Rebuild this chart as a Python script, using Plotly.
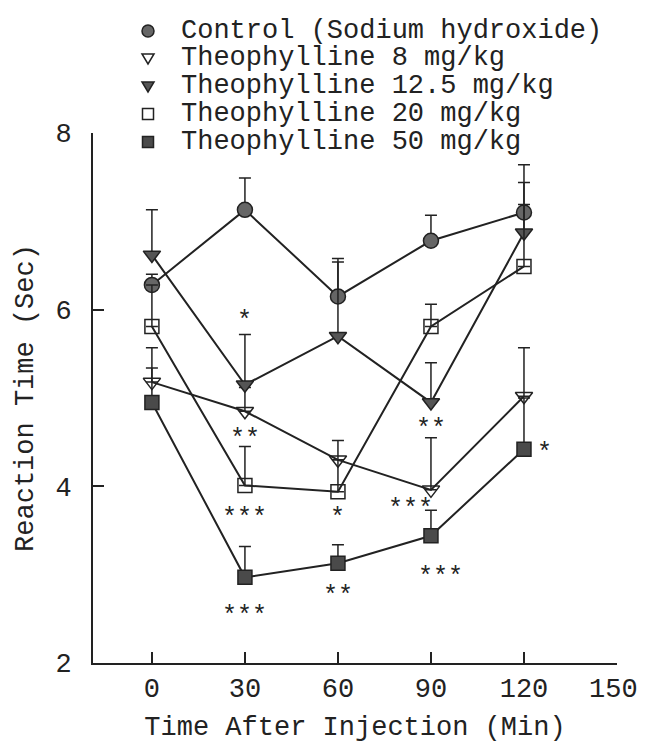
import plotly.graph_objects as go

# ---------------- data ----------------
time_min = [0, 30, 60, 90, 120]

control_mean = [6.28, 7.13, 6.15, 6.78, 7.10]
control_top = [6.40, 7.49, 6.58, 7.07, 7.64]

theo8_mean = [5.18, 4.85, 4.30, 3.96, 5.02]
theo8_top = [5.57, 5.12, 4.52, 4.55, 5.57]

theo125_mean = [6.62, 5.15, 5.70, 4.95, 6.87]
theo125_top = [7.13, 5.72, 6.54, 5.40, 7.44]

theo20_mean = [5.81, 4.01, 3.94, 5.81, 6.49]
theo20_top = [6.28, 4.45, 4.30, 6.06, 7.19]

theo50_mean = [4.95, 2.97, 3.13, 3.44, 4.42]
theo50_top = [5.34, 3.32, 3.34, 3.73, 5.00]

series_names = [
    "Control (Sodium hydroxide)",
    "Theophylline 8 mg/kg",
    "Theophylline 12.5 mg/kg",
    "Theophylline 20 mg/kg",
    "Theophylline 50 mg/kg",
]

sig_x = [30, 30, 30, 30, 60, 60, 90, 83.5, 93, 126.5]
sig_y = [5.94, 4.61, 3.71, 2.61, 3.71, 2.83, 4.72, 3.82, 3.05, 4.45]
sig_text = ["*", "**", "***", "***", "*", "**", "**", "***", "***", "*"]

x_ticks = [0, 30, 60, 90, 120, 150]
x_tick_labels = ["0", "30", "60", "90", "120", "150"]
y_ticks = [2, 4, 6, 8]

# ---------------- style ----------------
FONT = "Liberation Mono"
INK = "#222222"
GRAY = "#666666"

styles = [
    dict(symbol="circle", size=15, color=GRAY),
    dict(symbol="triangle-down-open", size=15, color=INK),
    dict(symbol="triangle-down", size=15, color="#555555"),
    dict(symbol="square-open", size=14, color=INK),
    dict(symbol="square", size=14, color="#4a4a4a"),
]
means = [control_mean, theo8_mean, theo125_mean, theo20_mean, theo50_mean]
tops = [control_top, theo8_top, theo125_top, theo20_top, theo50_top]

fig = go.Figure()
for name, m, t, st in zip(series_names, means, tops, styles):
    up = [b - a for a, b in zip(m, t)]
    fig.add_trace(go.Scatter(
        x=time_min, y=m, name=name, mode="lines+markers",
        line=dict(color=INK, width=2),
        marker=dict(symbol=st["symbol"], size=st["size"], color=st["color"],
                    line=dict(color=INK, width=1.5)),
        error_y=dict(type="data", symmetric=False, array=up,
                     arrayminus=[0] * len(up), color=INK, thickness=1.5, width=6),
        showlegend=False,
    ))

for sx, sy, stx in zip(sig_x, sig_y, sig_text):
    fig.add_annotation(x=sx, y=sy, text=stx, showarrow=False, yshift=-7,
                       font=dict(family=FONT, size=25, color=INK),
                       xanchor="center", yanchor="middle")

# ---------------- layout geometry (page has an 8px body margin) ----------------
OFF = 8
W, H = 645 - OFF, 751 - 2 * OFF
L, R, T, B = 93 - OFF, 28, 133 - OFF, 88 - OFF
pw, ph = W - L - R, H - T - B

def px_x(p):
    return (p - OFF - L) / pw

def px_y(p):
    return (H - B - (p - OFF)) / ph

# last tick label drawn as an annotation nudged left so it is not clipped
shown_labels = x_tick_labels[:-1] + [""]
fig.add_annotation(x=x_ticks[-1], y=px_y(690), yref="paper", text=x_tick_labels[-1],
                   showarrow=False, xanchor="center", yanchor="middle", xshift=-4,
                   font=dict(family=FONT, size=27, color=INK))

legend_rows = [31, 58, 86, 114, 142]
mk_x = px_x(148)
tx_x = px_x(179)
for i, (name, py) in enumerate(zip(series_names, legend_rows)):
    fig.add_annotation(xref="paper", yref="paper", x=tx_x, y=px_y(py), text=name,
                       showarrow=False, xanchor="left", yanchor="middle",
                       font=dict(family=FONT, size=27, color=INK))
    common = dict(xref="paper", yref="paper", xsizemode="pixel", ysizemode="pixel",
                  xanchor=mk_x, yanchor=px_y(py), line=dict(color=INK, width=1.5))
    if i == 0:
        fig.add_shape(type="circle", x0=-6, x1=6, y0=-6, y1=6, fillcolor=GRAY, **common)
    elif i in (1, 2):
        fill = "white" if i == 1 else "#555555"
        fig.add_shape(type="path", path="M -6,4 L 6,4 L 0,-6 Z", fillcolor=fill, **common)
    else:
        fill = "white" if i == 3 else "#4a4a4a"
        fig.add_shape(type="rect", x0=-5.5, x1=5.5, y0=-5.5, y1=5.5, fillcolor=fill, **common)

fig.update_layout(
    width=W, height=H,
    margin=dict(l=L, r=R, t=T, b=B, pad=0, autoexpand=False),
    paper_bgcolor="white", plot_bgcolor="white",
    font=dict(family=FONT, size=27, color=INK),
    showlegend=False,
    xaxis=dict(range=[-19, 150], tickvals=x_ticks, ticktext=shown_labels,
               ticks="inside", ticklen=11,
               tickwidth=1.5, tickcolor=INK, showline=True, linecolor=INK, linewidth=2,
               showgrid=False, zeroline=False, ticklabelstandoff=0, automargin=False,
               title=dict(text="Time After Injection (Min)", standoff=14,
                          font=dict(family=FONT, size=27))),
    yaxis=dict(range=[2, 8], tickvals=y_ticks, ticks="inside", ticklen=11,
               tickwidth=1.5, tickcolor=INK, showline=True, linecolor=INK, linewidth=2,
               showgrid=False, zeroline=False, ticklabelstandoff=14, automargin=False,
               title=dict(text="Reaction Time (Sec)", standoff=14,
                          font=dict(family=FONT, size=27))),
)

fig.write_html("out.html")
